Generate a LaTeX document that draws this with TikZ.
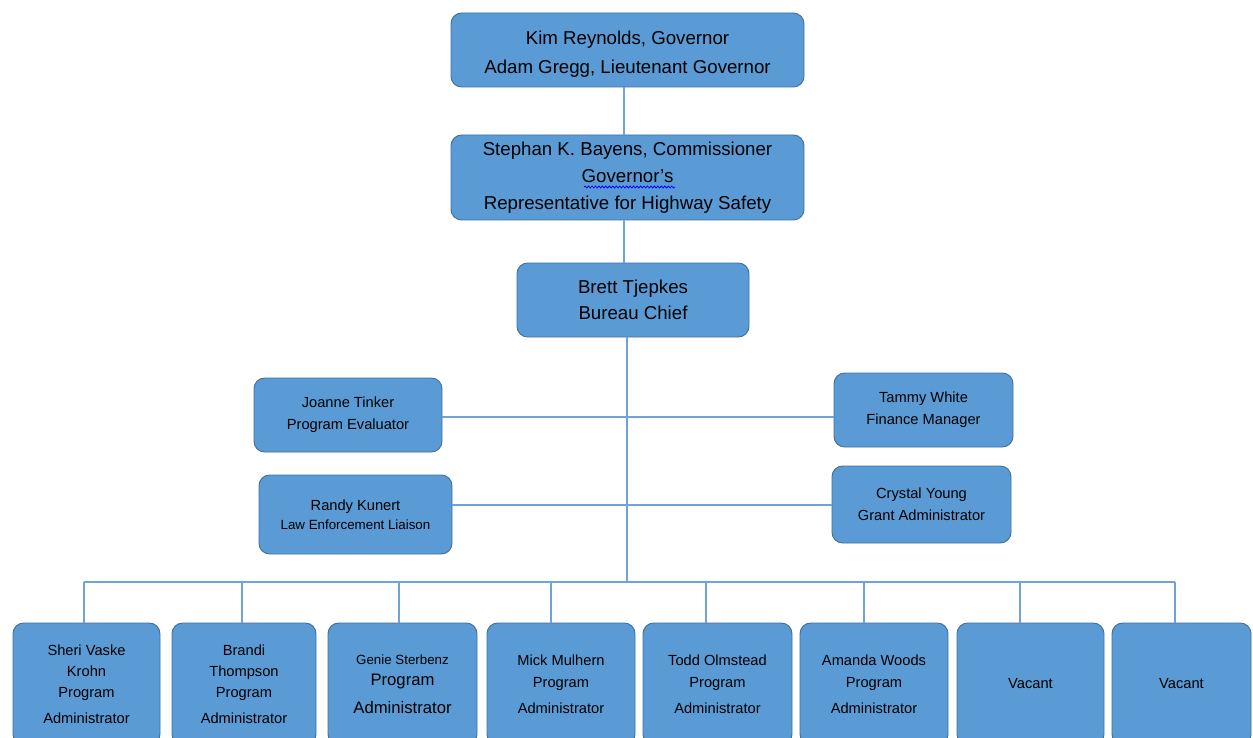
\documentclass[tikz,border=0pt]{standalone}
\usepackage{fontspec}
\setmainfont{Liberation Sans}
\usetikzlibrary{decorations.pathmorphing}
\definecolor{boxfill}{HTML}{5B9BD5}
\definecolor{boxline}{HTML}{41719C}
\definecolor{conncol}{HTML}{6FA3DA}
\tikzset{
  box/.style={draw=boxline, line width=0.7pt, fill=boxfill, rounded corners=8pt, align=center, text=black, inner sep=0pt},
  conn/.style={draw=conncol, line width=1.1pt},
  fA/.style={font=\fontsize{14}{21.75}\selectfont},
  fB/.style={font=\fontsize{14}{20.25}\selectfont},
  fC/.style={font=\fontsize{14}{19.5}\selectfont},
  fM/.style={font=\fontsize{11}{16.5}\selectfont},
  fS/.style={font=\fontsize{11}{16}\selectfont},
  fT/.style={font=\fontsize{11}{17}\selectfont},
}
\begin{document}
\begin{tikzpicture}[x=0.75pt,y=-0.75pt]
\useasboundingbox (0,0) rectangle (1253,738);
\clip (0,0) rectangle (1253,738);
\fill[white] (0,0) rectangle (1253,738);
% top
\node[box,minimum width=264.75pt,minimum height=55.5pt] (gov) at (627.5,50) {};
\node[fA,align=center,inner sep=0pt] (govtext) at (627.5,54) {Kim Reynolds, Governor\\Adam Gregg, Lieutenant Governor};
\node[box,fB,minimum width=264.75pt,minimum height=63.75pt] (comm) at (627.5,177.5) {Stephan K. Bayens, Commissioner\\Governor's\\Representative for Highway Safety};
\draw[blue, line width=0.6pt, decorate, decoration={snake, amplitude=0.7pt, segment length=2.6pt}] (584,187) -- (675,187);
\node[box,fC,minimum width=174pt,minimum height=55.5pt] (brett) at (633,300) {Brett Tjepkes\\Bureau Chief};
% middle
\node[box,fM,minimum width=141pt,minimum height=55.5pt] (joanne) at (348,415) {Joanne Tinker\\Program Evaluator};
\node[box,fM,minimum width=134.25pt,minimum height=55.5pt] (tammy) at (923.5,410) {Tammy White\\Finance Manager};
\node[box,minimum width=144.75pt,minimum height=59.25pt] (randy) at (355.5,514.5) {\fontsize{11}{15}\selectfont Randy Kunert\\[2.5pt]\fontsize{10}{15}\selectfont Law Enforcement Liaison};
\node[box,fM,minimum width=134.25pt,minimum height=57.75pt] (crystal) at (921.5,504.5) {Crystal Young\\Grant Administrator};
% bottom
\node[box,fS,minimum width=110.25pt,minimum height=91.5pt] (b1) at (86.5,684) {Sheri Vaske\\Krohn\\Program\\[3pt]Administrator};
\node[box,fS,minimum width=108pt,minimum height=91.5pt] (b2) at (244,684) {Brandi\\Thompson\\Program\\[3pt]Administrator};
\node[box,minimum width=111.75pt,minimum height=91.5pt] (b3) at (402.5,684) {\fontsize{10}{12}\selectfont Genie Sterbenz\\[4pt]\fontsize{12.5}{15}\selectfont Program\\[9pt]\fontsize{12.5}{15}\selectfont Administrator};
\node[box,fT,minimum width=111pt,minimum height=91.5pt] (b4) at (561,684) {Mick Mulhern\\Program\\[2pt]Administrator};
\node[box,fT,minimum width=111.75pt,minimum height=91.5pt] (b5) at (717.5,684) {Todd Olmstead\\Program\\[2pt]Administrator};
\node[box,fT,minimum width=111pt,minimum height=91.5pt] (b6) at (874,684) {Amanda Woods\\Program\\[2pt]Administrator};
\node[box,fS,minimum width=110.25pt,minimum height=91.5pt] (b7) at (1030.5,684) {Vacant};
\node[box,fS,minimum width=104.25pt,minimum height=91.5pt] (b8) at (1181.5,684) {Vacant};
% connectors
\coordinate (spine) at (624,0);
\draw[conn] (spine |- gov.south) -- (spine |- comm.north);
\draw[conn] (spine |- comm.south) -- (spine |- brett.north);
\coordinate (trunk) at (627,582);
\draw[conn] (trunk |- brett.south) -- (trunk);
\coordinate (busL) at (84,582);
\coordinate (busR) at (1175,582);
\draw[conn] (busL) -- (busR);
\coordinate (d1) at (84,582);
\coordinate (d2) at (242,582);
\coordinate (d3) at (399,582);
\coordinate (d4) at (551,582);
\coordinate (d5) at (706,582);
\coordinate (d6) at (864,582);
\coordinate (d7) at (1020,582);
\coordinate (d8) at (1175,582);
\foreach \i in {1,...,8} {\draw[conn] (d\i) -- (d\i |- b\i.north);}
\coordinate (jl) at (442,417);
\draw[conn] (jl -| joanne.east) -- (jl -| tammy.west);
\coordinate (rl) at (452,505);
\draw[conn] (rl -| randy.east) -- (rl -| crystal.west);
\end{tikzpicture}
\end{document}
